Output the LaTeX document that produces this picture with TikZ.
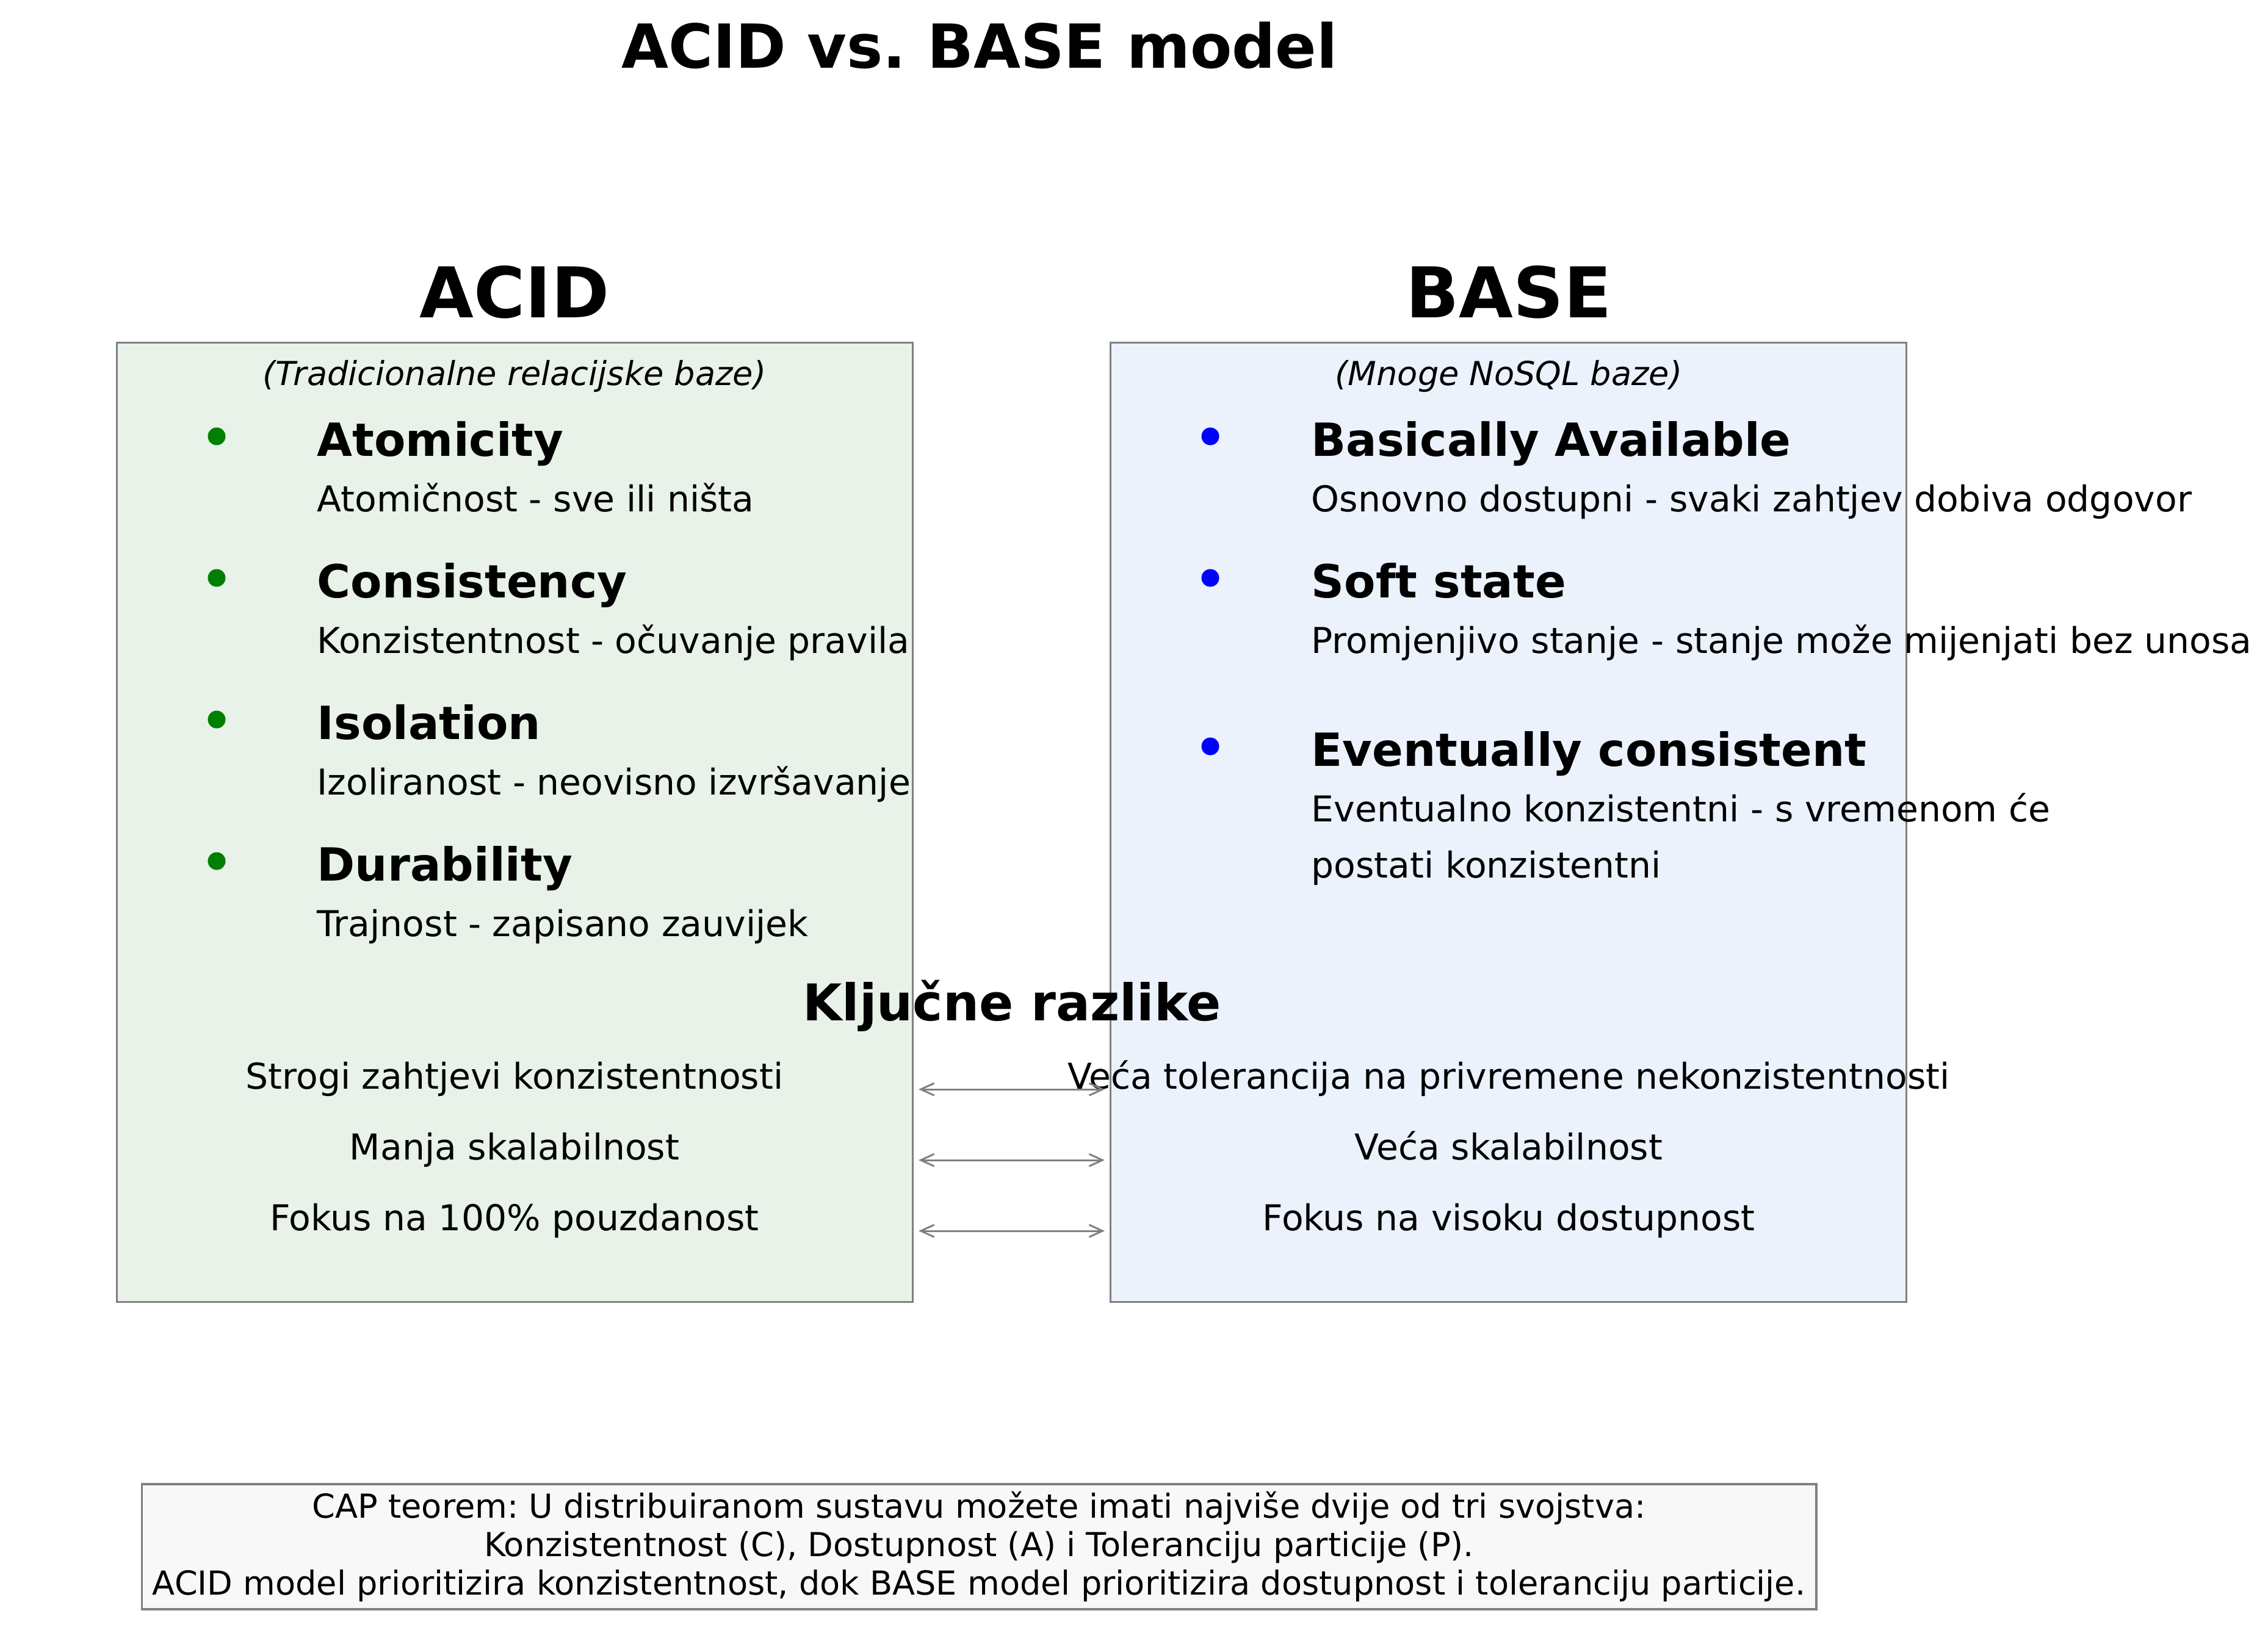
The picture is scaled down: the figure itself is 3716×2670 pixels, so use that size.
\documentclass[tikz,border=0pt]{standalone}
\usepackage{fontspec}
\setmainfont{DejaVu Sans}
\usepackage{xcolor}
\usepackage{tikz}
\usetikzlibrary{arrows.meta,positioning}
\frenchspacing
\definecolor{AcidFill}{RGB}{232,242,232}
\definecolor{BaseFill}{RGB}{235,242,252}
\definecolor{CapFill}{RGB}{248,248,248}
\definecolor{LineGray}{RGB}{128,128,128}
\definecolor{DotGreen}{RGB}{0,128,0}
\definecolor{DotBlue}{RGB}{0,0,255}
\tikzset{
    panel/.style={draw=LineGray, line width=0.95pt, inner sep=0pt},
    maintitle/.style={anchor=base, inner sep=0pt, font=\fontsize{28.3}{34}\selectfont\bfseries},
    heading/.style={anchor=base, inner sep=0pt, font=\fontsize{32.6}{38}\selectfont\bfseries},
    subnote/.style={anchor=base, inner sep=0pt, font=\fontsize{15.4}{18}\selectfont\itshape},
    propname/.style={anchor=base west, inner sep=0pt, font=\fontsize{21.3}{25}\selectfont\bfseries},
    propdesc/.style={anchor=base west, inner sep=0pt, font=\fontsize{16.6}{20}\selectfont},
    bulletdot/.style={circle, inner sep=0pt, minimum size=0.29cm},
    cmptxt/.style={anchor=base, inner sep=0pt, font=\fontsize{16.6}{20}\selectfont},
    cmparr/.style={{Straight Barb[length=0.22cm,width=0.2cm]}-{Straight Barb[length=0.22cm,width=0.2cm]}, draw=LineGray, line width=0.85pt},
}

\begin{document}
\begin{tikzpicture}[x=0.01cm,y=-0.01cm]
\useasboundingbox (0,0) rectangle (3716,2670);
\node[maintitle] (title) at (1605,112) {ACID vs. BASE model};

% panels
\node[panel, fill=AcidFill, minimum width=13.03cm, minimum height=15.71cm] (acidbox) at (843.5,1347.5) {};
\node[panel, fill=BaseFill, minimum width=13.03cm, minimum height=15.71cm] (basebox) at (2471.5,1347.5) {};
\node[heading] (acidhead) at (843,520) {ACID};
\node[heading] (basehead) at (2472,520) {BASE};
\node[subnote] (acidnote) at (843,631) {(Tradicionalne relacijske baze)};
\node[subnote] (basenote) at (2472,631) {(Mnoge NoSQL baze)};

% ACID properties
\node[bulletdot, fill=DotGreen] (adot1) at (355,715) {};
\node[propname] (aname1) at (519,747) {Atomicity};
\node[propdesc] (adesc1) at (519,838) {Atomičnost - sve ili ništa};
\node[bulletdot, fill=DotGreen] (adot2) at (355,947) {};
\node[propname] (aname2) at (519,979) {Consistency};
\node[propdesc] (adesc2) at (519,1070) {Konzistentnost - očuvanje pravila};
\node[bulletdot, fill=DotGreen] (adot3) at (355,1179) {};
\node[propname] (aname3) at (519,1211) {Isolation};
\node[propdesc] (adesc3) at (519,1302) {Izoliranost - neovisno izvršavanje};
\node[bulletdot, fill=DotGreen] (adot4) at (355,1411) {};
\node[propname] (aname4) at (519,1443) {Durability};
\node[propdesc] (adesc4) at (519,1534) {Trajnost - zapisano zauvijek};

% BASE properties
\node[bulletdot, fill=DotBlue] (bdot1) at (1983,715) {};
\node[propname] (bname1) at (2148,747) {Basically Available};
\node[propdesc] (bdesc1) at (2148,838) {Osnovno dostupni - svaki zahtjev dobiva odgovor};
\node[bulletdot, fill=DotBlue] (bdot2) at (1983,947) {};
\node[propname] (bname2) at (2148,979) {Soft state};
\node[propdesc] (bdesc2) at (2148,1070) {Promjenjivo stanje - stanje može mijenjati bez unosa};
\node[bulletdot, fill=DotBlue] (bdot3) at (1983,1223) {};
\node[propname] (bname3) at (2148,1255) {Eventually consistent};
\node[propdesc] (bdesc3) at (2148,1346) {Eventualno konzistentni - s vremenom će};
\node[propdesc] (bdesc3b) at (2148,1438) {postati konzistentni};

% key differences
\node[heading, font=\fontsize{23.6}{28}\selectfont\bfseries] (diffhead) at (1658,1672) {Ključne razlike};
\node[cmptxt] (acmp1) at (843,1784) {Strogi zahtjevi konzistentnosti};
\node[cmptxt] (acmp2) at (843,1900) {Manja skalabilnost};
\node[cmptxt] (acmp3) at (843,2016) {Fokus na 100\% pouzdanost};
\node[cmptxt] (bcmp1) at (2472,1784) {Veća tolerancija na privremene nekonzistentnosti};
\node[cmptxt] (bcmp2) at (2472,1900) {Veća skalabilnost};
\node[cmptxt] (bcmp3) at (2472,2016) {Fokus na visoku dostupnost};
\foreach \y [count=\i] in {1785,1901,2017} {
    \coordinate (larr\i) at (1505,\y);
    \coordinate (rarr\i) at (1810,\y);
    \draw[cmparr] (larr\i) -- (rarr\i);
}

% CAP note
\node[panel, fill=CapFill, minimum width=27.42cm, minimum height=2.05cm] (capbox) at (1604,2534.5) {};
\node[inner sep=0pt, align=center, font=\fontsize{15.4}{17.9}\selectfont] (captext) at (1604,2534) {CAP teorem: U distribuiranom sustavu možete imati najviše dvije od tri svojstva:\\Konzistentnost (C), Dostupnost (A) i Toleranciju particije (P).\\ACID model prioritizira konzistentnost, dok BASE model prioritizira dostupnost i toleranciju particije.};
\end{tikzpicture}
\end{document}
